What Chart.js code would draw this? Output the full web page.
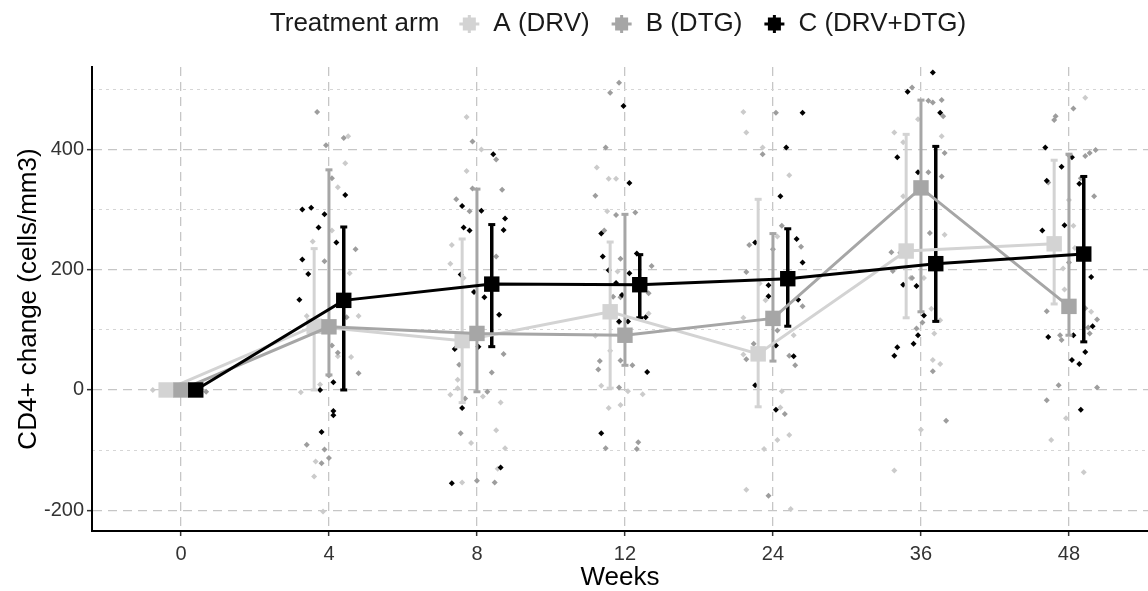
<!DOCTYPE html>
<html>
<head>
<meta charset="utf-8">
<script src="https://cdn.jsdelivr.net/npm/chart.js@4.4.1/dist/chart.umd.min.js"></script>
<style>
html,body{margin:0;padding:0;background:#fff;}
canvas{display:block;}
</style>
</head>
<body>
<canvas id="c" width="1148" height="591"></canvas>
<script>
// ---------- data ----------
const weeks = ['0', '4', '8', '12', '24', '36', '48'];
const yTickLabels = [-200, 0, 200, 400];
const yMinorTicks = [-100, 100, 300, 500];
const groupNames = ['A (DRV)', 'B (DTG)', 'C (DRV+DTG)'];

const meanA = [0, 106, 82, 130, 60, 231, 243];
const lowA  = [0, 0, -21, 3, -28, 120, 143];
const highA = [0, 235, 251, 246, 317, 425, 382];

const meanB = [0, 105, 94, 91, 119, 336, 139];
const lowB  = [0, 25, -3, 41, 48, 130, 91];
const highB = [0, 366, 334, 292, 260, 482, 392];

const meanC = [0, 149, 176, 175, 185, 210, 226];
const lowC  = [0, 0, 72, 120, 106, 114, 80];
const highC = [0, 271, 275, 225, 268, 405, 355];

// individual observations per week: [jitter (weeks-category units), value]
const ptsA = [
  [[-0.19, 0]],
  [[0.13,422],[0.11,377],[0.06,337],[-0.11,247],[0.14,194],[0.2,123],[0.06,56],[0.15,55],[-0.19,-4],[-0.06,9],[-0.09,-119],[-0.1,-144],[-0.04,-202],[0.02,265],[-0.15,123]],
  [[-0.07,454],[0.03,400],[-0.07,364],[-0.17,241],[-0.18,210],[-0.09,186],[-0.13,17],[-0.18,-8],[0.04,-11],[0.16,-21],[0.13,-67],[-0.04,-88],[0.19,-97],[0.14,-131],[-0.1,-154],[-0.13,3]],
  [[-0.19,370],[-0.11,351],[-0.06,351],[-0.12,297],[-0.05,197],[-0.1,65],[-0.16,7],[0.02,-2],[0.12,-7],[-0.11,-30],[-0.03,-25],[-0.2,90],[-0.04,112],[0.16,127]],
  [[-0.2,462],[-0.18,428],[-0.07,403],[0.11,357],[0.03,255],[-0.09,177],[-0.05,149],[-0.2,120],[0.14,91],[-0.2,59],[0.06,-2],[0.05,-29],[0.11,-75],[0.03,-83],[-0.06,-98],[-0.18,-166],[0.12,-198]],
  [[-0.18,428],[-0.12,412],[-0.02,450],[0.14,422],[-0.12,322],[0.16,258],[0.02,186],[0.07,135],[0.13,116],[0.09,94],[0.08,50],[0.13,43],[0,-66],[-0.18,-134],[-0.07,186]],
  [[0.11,486],[0.03,273],[-0.04,202],[-0.03,167],[0.15,130],[-0.02,-47],[-0.12,-83],[0.1,-137],[0.04,236],[0,316]]
];
const ptsB = [
  [[0.17, -3]],
  [[-0.08,462],[-0.02,407],[0.1,419],[-0.03,214],[0.18,234],[0.12,121],[0.02,74],[0.2,28],[0.0,24],[-0.15,-91],[-0.03,-99],[-0.05,-122],[0.0,-113],[0.02,352],[0.06,62]],
  [[-0.03,413],[0.13,383],[-0.03,335],[0.17,333],[-0.14,317],[-0.05,297],[0.13,222],[0.18,60],[0.1,29],[0.07,-3],[-0.08,-14],[-0.11,-72],[0,-151],[0.12,-154],[-0.12,42]],
  [[-0.04,511],[-0.1,494],[-0.13,403],[-0.2,323],[-0.06,291],[0.07,295],[-0.14,265],[-0.03,218],[0.18,206],[-0.08,155],[-0.03,154],[-0.17,48],[-0.18,34],[-0.03,49],[0.05,41],[-0.04,4],[-0.13,-97],[0.09,-87],[0.08,-98],[0.16,161]],
  [[0.02,461],[-0.07,392],[0.06,273],[0.19,238],[-0.16,241],[-0.18,196],[0.2,139],[0.03,99],[-0.13,77],[-0.18,51],[0.11,57],[0.15,41],[0.08,-40],[-0.03,-176],[0,234]],
  [[-0.06,503],[0.05,481],[0.14,482],[0.08,478],[0.15,455],[0.16,394],[0.14,355],[0.05,362],[0.06,261],[-0.2,229],[-0.19,198],[-0.06,186],[-0.03,102],[0.01,112],[0.08,31],[0.17,-51],[-0.14,228]],
  [[-0.09,455],[-0.1,449],[0.03,468],[0,390],[0.11,389],[0.14,394],[0.18,399],[0.17,322],[-0.14,345],[0.08,352],[-0.15,131],[0.11,136],[0.19,117],[0.13,104],[0.14,94],[-0.06,91],[-0.05,83],[-0.07,8],[0.19,4],[-0.15,-17],[0,212]]
];
const ptsC = [
  [],
  [[-0.18,300],[-0.12,303],[-0.03,292],[-0.07,270],[0.11,324],[-0.18,217],[-0.14,193],[0.05,245],[-0.2,150],[-0.06,0],[0.03,13],[0.03,-35],[0.03,-42],[-0.05,-70]],
  [[0.11,392],[-0.1,306],[0.03,298],[0.19,285],[-0.09,270],[-0.05,265],[0.18,266],[-0.11,192],[-0.02,163],[0.05,154],[0.15,125],[-0.15,68],[-0.1,-30],[0.16,-129],[-0.17,-155],[0.01,72]],
  [[-0.01,472],[0.03,344],[-0.16,260],[-0.15,222],[0.08,227],[0.03,194],[-0.06,178],[-0.02,158],[0.14,121],[-0.04,114],[0.02,114],[0.15,30],[-0.16,-72],[-0.11,199]],
  [[0.2,461],[0.09,403],[0.05,322],[-0.12,245],[0.16,251],[0.2,212],[-0.03,174],[-0.03,156],[0.17,150],[0.02,74],[0.14,56],[-0.12,8],[0.02,-33]],
  [[0.08,528],[-0.09,496],[0.13,461],[-0.16,387],[-0.02,362],[-0.12,175],[-0.03,173],[0.02,124],[-0.02,91],[-0.05,77],[-0.16,71],[-0.18,57]],
  [[-0.16,403],[0.02,387],[-0.05,371],[-0.15,348],[0.07,343],[-0.03,274],[-0.18,265],[0.15,188],[0.16,106],[0.03,91],[-0.14,88],[0.11,63],[0.02,50],[0.07,43],[0.08,-33]]
];

// ---------- styling ----------
const lineColors = ['#d3d3d3', '#a6a6a6', '#000000'];
const pointColors = ['#cbcbcb', '#9d9d9d', '#000000'];
const dodge = [-0.1, 0, 0.1];
const FONT = '"Liberation Sans", Arial, Helvetica, sans-serif';

const groups = [
  {mean: meanA, lo: lowA, hi: highA, pts: ptsA},
  {mean: meanB, lo: lowB, hi: highB, pts: ptsB},
  {mean: meanC, lo: lowC, hi: highC, pts: ptsC}
];

const datasets = [];
// means (drawn on top: lowest order)
groups.forEach((g, k) => {
  datasets.push({
    type: 'line',
    label: groupNames[k],
    data: g.mean.map((v, i) => ({x: i + dodge[k], y: v})),
    borderColor: lineColors[k],
    backgroundColor: lineColors[k],
    borderWidth: 3,
    tension: 0,
    pointStyle: 'rect',
    pointRadius: 10.9,
    pointBorderWidth: 0,
    pointBackgroundColor: lineColors[k],
    order: 2 - k
  });
});
// error bars
groups.forEach((g, k) => {
  const d = [];
  g.mean.forEach((v, i) => {
    if (i === 0) return;
    d.push({x: i + dodge[k], y: g.lo[i]});
    d.push({x: i + dodge[k], y: g.hi[i]});
    d.push({x: i + dodge[k], y: null});
  });
  datasets.push({
    type: 'line',
    label: groupNames[k] + ' SE',
    data: d,
    borderColor: lineColors[k],
    borderWidth: k === 2 ? 3.5 : 3,
    spanGaps: false,
    tension: 0,
    pointStyle: 'line',
    pointRadius: 3.5,
    pointBorderWidth: 3,
    pointBorderColor: lineColors[k],
    order: 5 - k
  });
});
// individual points
groups.forEach((g, k) => {
  const d = [];
  g.pts.forEach((arr, i) => arr.forEach(p => d.push({x: i + p[0], y: p[1]})));
  datasets.push({
    type: 'scatter',
    label: groupNames[k] + ' obs',
    data: d,
    showLine: false,
    pointStyle: 'rectRot',
    pointRadius: 3,
    pointBorderWidth: 0,
    pointBackgroundColor: pointColors[k],
    order: 8 - k
  });
});

const legendPlugin = {
  id: 'ggLegend',
  afterDraw(chart) {
    const ctx = chart.ctx;
    ctx.save();
    ctx.font = '26px ' + FONT;
    ctx.textBaseline = 'middle';
    ctx.fillStyle = '#1a1a1a';
    const title = 'Treatment arm';
    const keyW = 20, gapTitle = 20, gapKey = 14, gapItem = 22;
    let total = ctx.measureText(title).width + gapTitle;
    groupNames.forEach((n, k) => {
      total += keyW + gapKey + ctx.measureText(n).width + (k < 2 ? gapItem : 0);
    });
    let x = 618 - total / 2;
    const y = 24;
    ctx.textAlign = 'left';
    ctx.fillText(title, x, y);
    x += ctx.measureText(title).width + gapTitle;
    groupNames.forEach((n, k) => {
      const cx = x + keyW / 2;
      ctx.strokeStyle = lineColors[k];
      ctx.fillStyle = lineColors[k];
      ctx.lineWidth = 3;
      ctx.beginPath();
      ctx.moveTo(cx - 10, y); ctx.lineTo(cx + 10, y);
      ctx.moveTo(cx, y - 9); ctx.lineTo(cx, y + 9);
      ctx.stroke();
      ctx.fillRect(cx - 6.5, y - 6.5, 13, 13);
      x += keyW + gapKey;
      ctx.fillStyle = '#1a1a1a';
      ctx.fillText(n, x, y);
      x += ctx.measureText(n).width + gapItem;
    });
    ctx.restore();
  }
};

new Chart(document.getElementById('c'), {
  type: 'scatter',
  data: {datasets},
  options: {
    responsive: false,
    devicePixelRatio: 1,
    animation: false,
    events: [],
    layout: {autoPadding: false, padding: {top: 67, right: 0, bottom: 0, left: 0}},
    plugins: {legend: {display: false}, tooltip: {enabled: false}, title: {display: false}},
    scales: {
      x: {
        type: 'linear',
        min: -0.601,
        max: 6.534,
        afterBuildTicks: s => { s.ticks = weeks.map((w, i) => ({value: i})); },
        afterFit: s => { s.height = 60; s.paddingLeft = 0; s.paddingRight = 0; },
        ticks: {
          callback: v => weeks[v],
          font: {size: 20, family: FONT},
          color: '#333333',
          padding: 6,
          includeBounds: false,
          maxRotation: 0,
          autoSkip: false
        },
        grid: {color: '#c6c6c6', lineWidth: 1.3, tickLength: 5, tickColor: '#333333', tickWidth: 1.5},
        border: {display: true, color: '#000000', width: 2, dash: [9, 6]},
        title: {display: true, text: 'Weeks', font: {size: 26, family: FONT, lineHeight: 1.0}, color: '#000000', padding: 0}
      },
      y2: {
        type: 'linear',
        position: 'left',
        min: -234.5,
        max: 537,
        afterBuildTicks: s => { s.ticks = yMinorTicks.map(v => ({value: v})); },
        afterFit: s => { s.width = 0; s.paddingTop = 0; s.paddingBottom = 0; },
        ticks: {display: false, includeBounds: false},
        grid: {color: '#d6d6d6', lineWidth: 1, drawTicks: false},
        border: {display: false, dash: [3, 4]}
      },
      y: {
        type: 'linear',
        position: 'left',
        min: -234.5,
        max: 537,
        afterBuildTicks: s => { s.ticks = yTickLabels.map(v => ({value: v})); },
        afterFit: s => { s.width = 92; },
        ticks: {font: {size: 20, family: FONT}, color: '#333333', padding: 3, includeBounds: false},
        grid: {color: '#c6c6c6', lineWidth: 1.3, tickLength: 5, tickColor: '#333333', tickWidth: 1.5},
        border: {display: true, color: '#000000', width: 2, dash: [9, 6]},
        title: {display: true, text: 'CD4+ change (cells/mm3)', font: {size: 26, family: FONT}, color: '#000000', padding: {top: 13, bottom: 0}}
      }
    }
  },
  plugins: [legendPlugin]
});
</script>
</body>
</html>
